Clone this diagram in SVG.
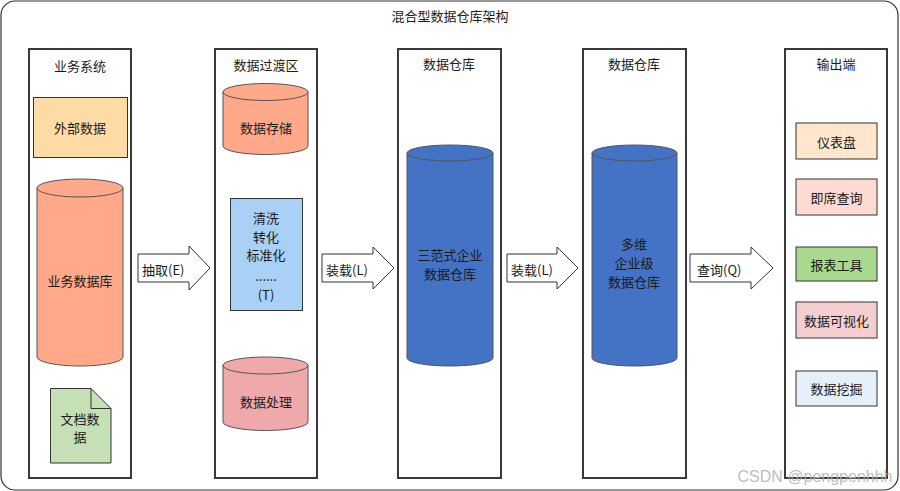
<svg xmlns="http://www.w3.org/2000/svg" width="900" height="491" viewBox="0 0 900 491">
<style>
text{font-family:"Noto Sans CJK SC","Microsoft YaHei",sans-serif;font-size:13px;fill:#1a1a1a;text-anchor:middle;dominant-baseline:central}
.col{fill:#fff;stroke:#3a3a3a;stroke-width:2}
.cyl{stroke:#555;stroke-width:1}
.box{stroke:#333;stroke-width:1}
.arr{fill:#fff;stroke:#333;stroke-width:1}
.lt{text-anchor:start}
</style>
<rect x="1" y="1" width="897" height="489" rx="14" fill="#fff" stroke="#333" stroke-width="1.2"/>
<text x="450" y="15">混合型数据仓库架构</text>

<g id="col-business">
<rect class="col" x="29" y="49" width="102" height="429"/>
<text x="80" y="65">业务系统</text>
</g>
<g id="col-staging">
<rect class="col" x="215" y="49" width="102" height="429"/>
<text x="266" y="64">数据过渡区</text>
</g>
<g id="col-dw1">
<rect class="col" x="398" y="49" width="103" height="429"/>
<text x="449" y="63">数据仓库</text>
</g>
<g id="col-dw2">
<rect class="col" x="583" y="49" width="103" height="429"/>
<text x="634" y="63">数据仓库</text>
</g>
<g id="col-output">
<rect class="col" x="785" y="49" width="102" height="429"/>
<text x="836" y="63">输出端</text>
</g>

<g id="ext-data">
<rect class="box" x="33.5" y="97.5" width="94" height="60" fill="#FFDBA6"/>
<text x="80" y="127">外部数据</text>
</g>
<g id="biz-db">
<path class="cyl" fill="#FFA88A" d="M37,188 A43,9 0 0 1 123,188 L123,357 A43,9 0 0 1 37,357 Z"/>
<path class="cyl" fill="none" d="M37,188 A43,9 0 0 0 123,188"/>
<text x="80" y="280">业务数据库</text>
</g>
<g id="doc-data">
<path class="box" fill="#C5E0B4" d="M50.5,388.5 L91,388.5 L111,408.5 L111,463 L50.5,463 Z"/>
<path class="box" fill="none" d="M91,388.5 L91,408.5 L111,408.5"/>
<text x="80" y="418">文档数</text>
<text x="80" y="436">据</text>
</g>

<g id="data-store">
<path class="cyl" fill="#FFA88A" d="M223,92 A42.5,8.5 0 0 1 308,92 L308,146 A42.5,8.5 0 0 1 223,146 Z"/>
<path class="cyl" fill="none" d="M223,92 A42.5,8.5 0 0 0 308,92"/>
<text x="266" y="127">数据存储</text>
</g>
<g id="etl">
<rect class="box" x="230.5" y="198.5" width="72" height="112" fill="#A9D0F5"/>
<text x="266" y="217">清洗</text>
<text x="266" y="236">转化</text>
<text x="266" y="254">标准化</text>
<text x="266" y="275">......</text>
<text x="266" y="294">(T)</text>
</g>
<g id="data-process">
<path class="cyl" fill="#F0A9AB" d="M223,365.5 A42.5,8.5 0 0 1 308,365.5 L308,422 A42.5,8.5 0 0 1 223,422 Z"/>
<path class="cyl" fill="none" d="M223,365.5 A42.5,8.5 0 0 0 308,365.5"/>
<text x="266" y="401">数据处理</text>
</g>

<g id="dw-3nf">
<path class="cyl" fill="#4472C4" d="M407,153 A43,8 0 0 1 493,153 L493,358 A43,8 0 0 1 407,358 Z"/>
<path class="cyl" fill="none" d="M407,153 A43,8 0 0 0 493,153"/>
<text x="450" y="254">三范式企业</text>
<text x="450" y="273">数据仓库</text>
</g>
<g id="dw-dim">
<path class="cyl" fill="#4472C4" d="M592,153 A42.5,8 0 0 1 677,153 L677,358 A42.5,8 0 0 1 592,358 Z"/>
<path class="cyl" fill="none" d="M592,153 A42.5,8 0 0 0 677,153"/>
<text x="634" y="243">多维</text>
<text x="634" y="262">企业级</text>
<text x="634" y="281">数据仓库</text>
</g>

<g id="out-dashboard">
<rect class="box" x="796" y="123" width="81" height="36" fill="#FFE6CC"/>
<text x="836.5" y="141">仪表盘</text>
</g>
<g id="out-adhoc">
<rect class="box" x="796" y="179" width="81" height="36" fill="#FDDBD2"/>
<text x="836.5" y="197">即席查询</text>
</g>
<g id="out-report">
<rect class="box" x="796" y="247" width="81" height="34" fill="#A9D98E"/>
<text x="836.5" y="264">报表工具</text>
</g>
<g id="out-viz">
<rect class="box" x="796" y="302" width="81" height="36" fill="#F5CFCF"/>
<text x="836.5" y="320">数据可视化</text>
</g>
<g id="out-mining">
<rect class="box" x="796" y="371" width="81" height="35" fill="#E5F0FB"/>
<text x="836.5" y="388.5">数据挖掘</text>
</g>

<g id="connectors">
<polygon class="arr" points="138,254 189,254 189,246 210,268 189,290 189,282 138,282"/>
<text class="lt" x="142" y="269">抽取(E)</text>
<polygon class="arr" points="322,254 373,254 373,247 394,268 373,289 373,282 322,282"/>
<text class="lt" x="326" y="269">装载(L)</text>
<polygon class="arr" points="507,254 557,254 557,247 578,268 557,289 557,282 507,282"/>
<text class="lt" x="511" y="269">装载(L)</text>
<polygon class="arr" points="690,254 751,254 751,247 773,268 751,289 751,282 690,282"/>
<text class="lt" x="697" y="269">查询(Q)</text>
</g>

<text x="815" y="476" style="font-family:'Liberation Sans',Arial,sans-serif;font-size:16px;fill:#b3b3b3;opacity:0.85">CSDN @pengpenhhh</text>
</svg>
